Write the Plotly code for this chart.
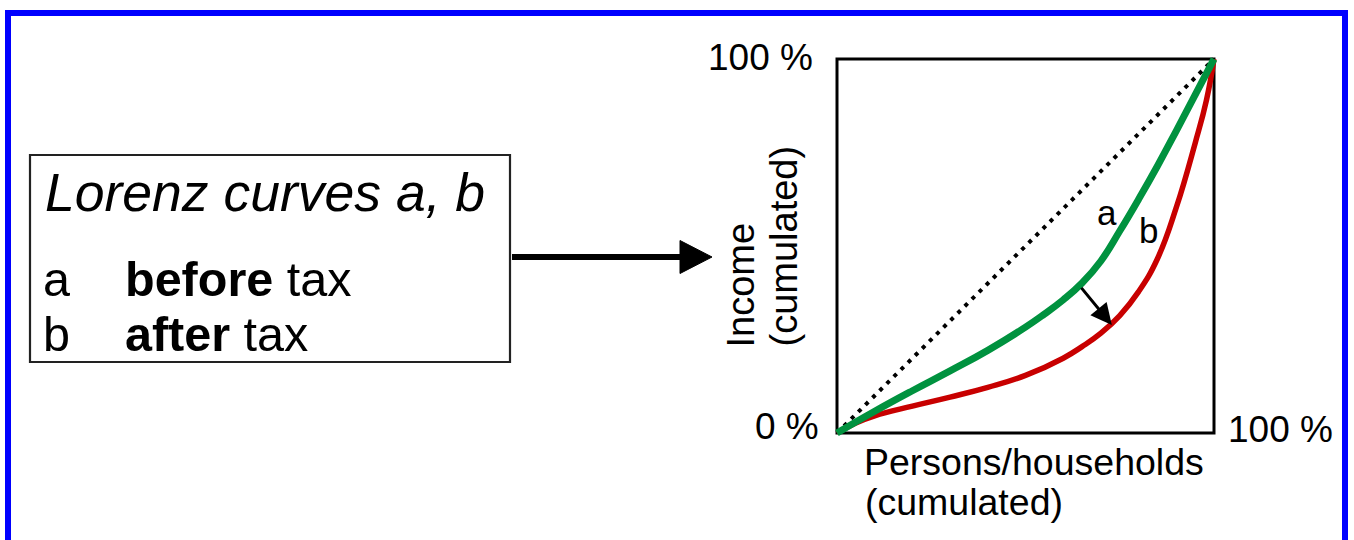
import plotly.graph_objects as go

# ---------------- data ----------------
curve_a_x = [0, 0.1, 0.2, 0.3, 0.4, 0.5, 0.55, 0.6, 0.65, 0.7, 0.75, 0.8, 0.85, 0.9, 0.95, 1.0]
curve_a_y = [0, 0.058, 0.113, 0.166, 0.221, 0.283, 0.318, 0.356, 0.401, 0.460, 0.540, 0.625, 0.714, 0.808, 0.904, 1.0]

curve_b_x = [0, 0.05, 0.1, 0.2, 0.3, 0.4, 0.5, 0.6, 0.65, 0.7, 0.75, 0.8, 0.85, 0.9, 0.95, 0.98, 1.0]
curve_b_y = [0, 0.027, 0.046, 0.072, 0.096, 0.122, 0.154, 0.200, 0.231, 0.267, 0.314, 0.378, 0.466, 0.603, 0.775, 0.890, 1.0]

equality_x = [0, 1]
equality_y = [0, 1]

box_title = "Lorenz curves a, b"
box_rows = [("a", "<b>before</b> tax"), ("b", "<b>after</b> tax")]
y_label = ["Income", "(cumulated)"]
x_label = ["Persons/households", "(cumulated)"]
tick_0 = "0 %"
tick_100 = "100 %"

# ---------------- layout helpers ----------------
W, H = 1354, 540
def PX(x):
    return x / W
def PY(y):
    return 1 - y / H

# plot square in pixels: data 0 -> 837 / 433, data 1 -> 1214 / 59
X0, X1, Y0, Y1 = 837.0, 1214.0, 433.0, 59.0
pad = 0.02
sx = X1 - X0
sy = Y0 - Y1
xdom = [PX(X0 - pad * sx), PX(X1 + pad * sx)]
ydom = [PY(Y0 + pad * sy), PY(Y1 - pad * sy)]

FONT = "Liberation Sans, Arial, Helvetica, sans-serif"
GREEN = "#00923F"
RED = "#C80000"

fig = go.Figure()

fig.add_trace(go.Scatter(x=equality_x, y=equality_y, mode="lines",
                         line=dict(color="black", width=4, dash="4px,6px"),
                         hoverinfo="skip", showlegend=False))
fig.add_trace(go.Scatter(x=curve_b_x, y=curve_b_y, mode="lines",
                         line=dict(color=RED, width=5.5, shape="spline", smoothing=1.3),
                         hoverinfo="skip", showlegend=False))
fig.add_trace(go.Scatter(x=curve_a_x, y=curve_a_y, mode="lines",
                         line=dict(color=GREEN, width=7, shape="spline", smoothing=1.3),
                         hoverinfo="skip", showlegend=False))

shapes = []
# blue outer frame
shapes.append(dict(type="rect", xref="paper", yref="paper",
                   x0=PX(8), x1=PX(1345), y0=PY(13), y1=PY(600),
                   line=dict(color="#0000FF", width=6), fillcolor="rgba(0,0,0,0)"))
# text box
shapes.append(dict(type="rect", xref="paper", yref="paper",
                   x0=PX(30), x1=PX(510), y0=PY(155), y1=PY(362),
                   line=dict(color="#222222", width=2.2), fillcolor="rgba(0,0,0,0)"))
# big arrow shaft
shapes.append(dict(type="line", xref="paper", yref="paper",
                   x0=PX(512), x1=PX(684), y0=PY(257), y1=PY(257),
                   line=dict(color="black", width=6)))
# big arrow head
shapes.append(dict(type="path", xref="paper", yref="paper",
                   path=f"M {PX(680)},{PY(240.5)} L {PX(712)},{PY(257)} L {PX(680)},{PY(273.5)} Z",
                   line=dict(color="black", width=1), fillcolor="black"))
# plot frame
shapes.append(dict(type="rect", xref="x", yref="y", x0=0, x1=1, y0=0, y1=1,
                   line=dict(color="black", width=3), fillcolor="rgba(0,0,0,0)", layer="below"))

ann = []
def text_ann(t, x, y, size, xanchor="left", yanchor="middle", angle=0):
    ann.append(dict(text=t, xref="paper", yref="paper", x=PX(x), y=PY(y),
                    xanchor=xanchor, yanchor=yanchor, showarrow=False, textangle=angle,
                    borderpad=0, borderwidth=0,
                    font=dict(family=FONT, size=size, color="black")))

# text box content
text_ann("<i>" + box_title + "</i>", 45, 192, 53.5)
text_ann(box_rows[0][0], 43, 279, 48.5)
text_ann(box_rows[0][1], 125, 279, 48.5)
text_ann(box_rows[1][0], 43, 334, 48.5)
text_ann(box_rows[1][1], 125, 334, 48.5)

# percent labels
text_ann(tick_100, 813, 58, 37, xanchor="right")
text_ann(tick_0, 819, 426, 37, xanchor="right")
text_ann(tick_100, 1228, 429, 37, xanchor="left")

# x label (two lines, left aligned)
text_ann(x_label[0], 864, 462, 37.5)
text_ann(x_label[1], 865, 502, 37.5)

# y label (rotated)
text_ann(y_label[0], 740, 348, 38, xanchor="center", yanchor="bottom", angle=-90)
text_ann(y_label[1], 783, 347, 38, xanchor="center", yanchor="bottom", angle=-90)

# curve labels
text_ann("a", 1107, 213, 35, xanchor="center")
text_ann("b", 1148, 230, 35, xanchor="center")

# arrow from curve a to curve b
ann.append(dict(x=0.729, y=0.289, ax=0.645, ay=0.392, xref="x", yref="y",
                axref="x", ayref="y", text="", showarrow=True,
                arrowhead=2, arrowsize=1.4, arrowwidth=3, arrowcolor="black", standoff=0))

fig.update_layout(
    width=W, height=H,
    margin=dict(l=0, r=0, t=0, b=0),
    paper_bgcolor="white", plot_bgcolor="white",
    xaxis=dict(domain=xdom, range=[-pad, 1 + pad], visible=False, fixedrange=True),
    yaxis=dict(domain=ydom, range=[-pad, 1 + pad], visible=False, fixedrange=True),
    shapes=shapes, annotations=ann, showlegend=False,
)

fig.write_html("out.html", config={"displayModeBar": False},
               post_script="document.body.style.margin='0';document.body.style.padding='0';document.body.style.overflow='hidden';")
